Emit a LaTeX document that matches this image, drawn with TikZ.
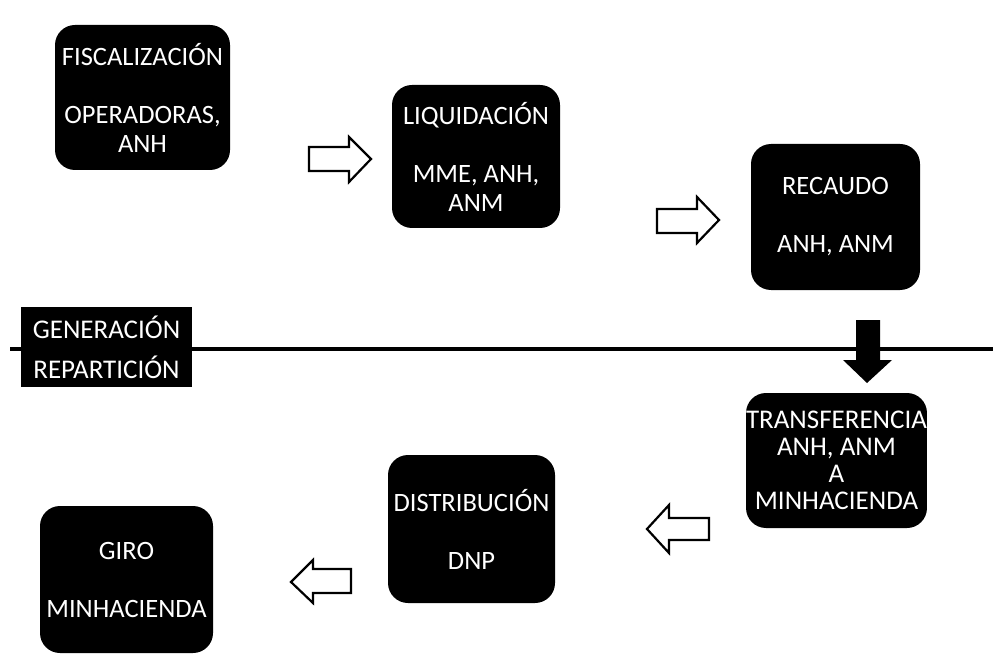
\documentclass[tikz,border=0pt]{standalone}
\usepackage{fontspec}
\setmainfont{Carlito}
\begin{document}
\begin{tikzpicture}[x=1pt,y=-1pt,
  stage/.style={fill=black, rounded corners=20pt, text=white, align=center,
    font=\fontsize{26.5}{29}\selectfont, inner sep=0pt},
  tag/.style={fill=black, text=white, align=center,
    font=\fontsize{27}{29}\selectfont, inner sep=0pt},
  blockarrow/.style={draw=black, line width=2.2pt, fill=white, line join=miter},
  downarrow/.style={fill=black},
]
\useasboundingbox (0,0) rectangle (998,668);
% separator line
\coordinate (lineL) at (10,349);
\coordinate (lineR) at (993,349);
\draw[line width=4pt] (lineL) -- (lineR);
\node[tag, minimum width=171pt, minimum height=80pt] (gen) at (106.5,347)
  {GENERACIÓN\\[11pt]REPARTICIÓN};
% stages
\node[stage, minimum width=175pt, minimum height=145pt] (fis) at (142.5,97.5)
  {FISCALIZACIÓN\\[29pt]OPERADORAS,\\ANH};
\node[stage, minimum width=168pt, minimum height=143pt] (liq) at (476,156.5)
  {LIQUIDACIÓN\\[29pt]MME, ANH,\\ANM};
\node[stage, minimum width=169pt, minimum height=146pt] (rec) at (835.5,217)
  {RECAUDO\\[29pt]ANH, ANM};
\node[stage, minimum width=177pt, minimum height=135pt,
  font=\fontsize{27}{27}\selectfont] (tra) at (836.5,460.5)
  {TRANSFERENCIA\\ANH, ANM\\A\\MINHACIENDA};
\node[stage, minimum width=167pt, minimum height=148pt] (dis) at (471.5,529)
  {DISTRIBUCIÓN\\[29pt]DNP};
\node[stage, minimum width=173pt, minimum height=147pt] (gir) at (126.5,579.5)
  {GIRO\\[29pt]MINHACIENDA};
% block arrows
\draw[blockarrow] (309,147) -- (349,147) -- (349,137) -- (371,159) -- (349,182)
  -- (349,171) -- (309,171) -- cycle;
\draw[blockarrow] (657,209) -- (697,209) -- (697,197) -- (719,220) -- (697,243)
  -- (697,233) -- (657,233) -- cycle;
\draw[blockarrow] (709,518) -- (669,518) -- (669,505) -- (647,529) -- (669,553)
  -- (669,540) -- (709,540) -- cycle;
\draw[blockarrow] (351,569) -- (313,569) -- (313,560) -- (291,582) -- (313,603)
  -- (313,593) -- (351,593) -- cycle;
% down arrow
\fill[downarrow] (856,320) -- (880,320) -- (880,360) -- (892,360) -- (867,383)
  -- (843,360) -- (856,360) -- cycle;
\end{tikzpicture}
\end{document}
